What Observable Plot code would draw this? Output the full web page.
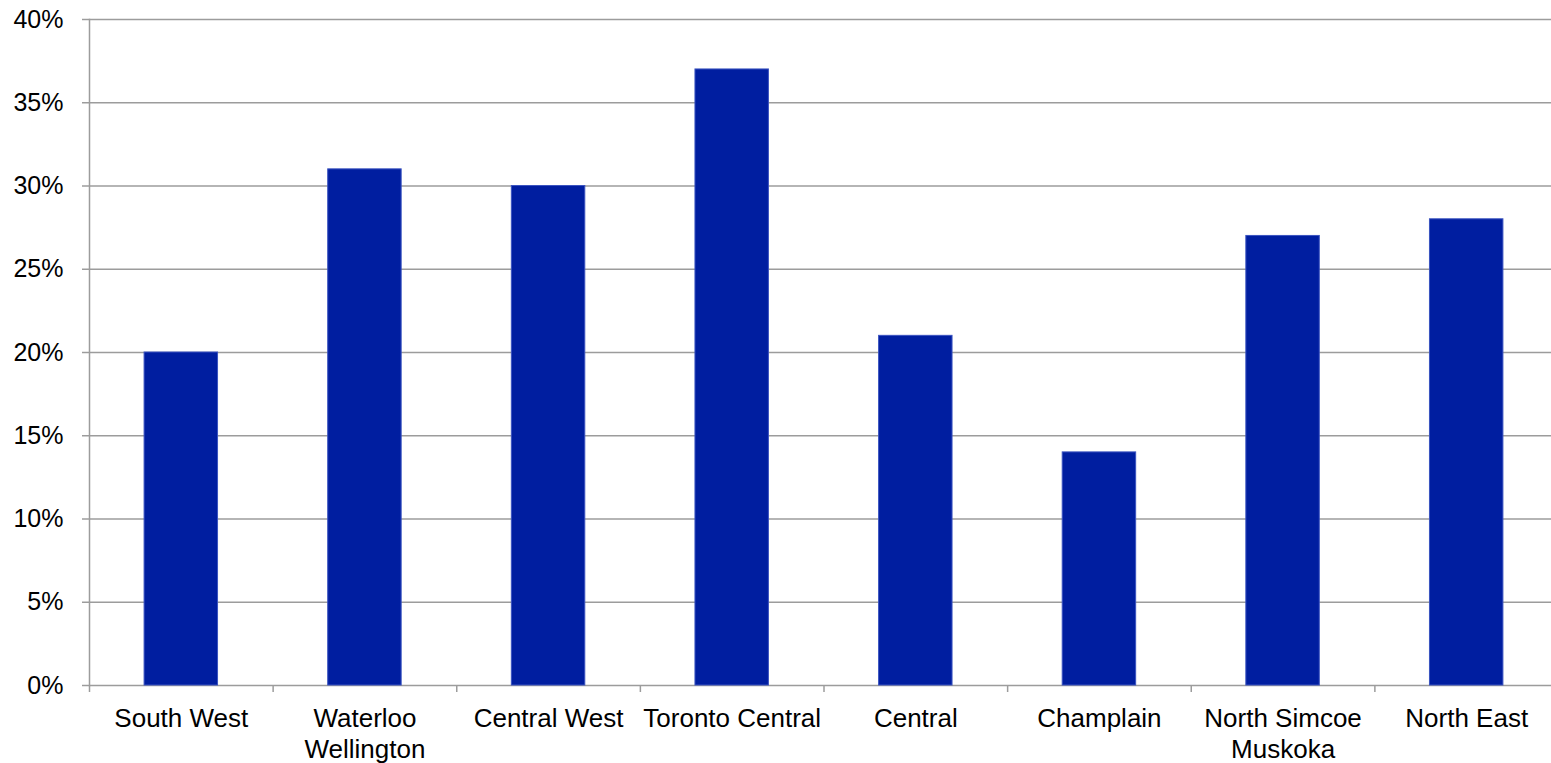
<!DOCTYPE html>
<html>
<head>
<meta charset="utf-8">
<script src="https://cdn.jsdelivr.net/npm/d3@7"></script>
<script src="https://cdn.jsdelivr.net/npm/@observablehq/plot@0.6"></script>
<style>
  html, body { margin: 0; padding: 0; background: #fff; overflow: hidden; }
  svg { display: block; overflow: visible; }
</style>
</head>
<body>
<div id="chart"></div>
<script>
const regions = ["South West", "Waterloo\nWellington", "Central West", "Toronto Central", "Central", "Champlain", "North Simcoe\nMuskoka", "North East"];
const values = [20, 31, 30, 37, 21, 14, 27, 28];
const yTicks = [0, 5, 10, 15, 20, 25, 30, 35, 40];

const data = regions.map((r, i) => ({region: r, value: values[i]}));

const width = 1551, height = 763;
const marginLeft = 89, marginTop = 19, marginBottom = 78;
const xRight = 1558;
const step = (xRight - marginLeft) / regions.length;

const chart = Plot.plot({
  width, height,
  marginLeft, marginRight: 0, marginTop, marginBottom,
  style: {fontFamily: "'Liberation Sans', Arial, sans-serif", fontSize: "25px", color: "#000", background: "#fff"},
  x: {domain: regions, range: [marginLeft, xRight], paddingInner: 0.6, paddingOuter: 0.3, round: false, label: null},
  y: {domain: [0, 40], label: null},
  marks: [
    Plot.ruleY(yTicks, {stroke: "#9c9c9c", strokeWidth: 1.5}),
    Plot.frame({anchor: "left", stroke: "#9c9c9c", strokeWidth: 1.5}),
    Plot.barY(data, {x: "region", y: "value", fill: "#001ea0", stroke: "#3a53c0", strokeWidth: 1}),
    Plot.axisY({ticks: yTicks, tickFormat: d => d + "%", tickSize: 7, tickPadding: 19, stroke: "#9c9c9c", strokeWidth: 1.5, fill: "#000", fontSize: 25}),
    Plot.ruleX(regions, {x: d => d, y1: 0, y2: 0, insetBottom: -7, dx: -step / 2, stroke: "#9c9c9c", strokeWidth: 1.5}),
    Plot.axisX({tickSize: 0, tickPadding: 19, fill: "#000", fontSize: 26, lineHeight: 1.2})
  ]
});
document.getElementById("chart").appendChild(chart);
</script>
</body>
</html>
